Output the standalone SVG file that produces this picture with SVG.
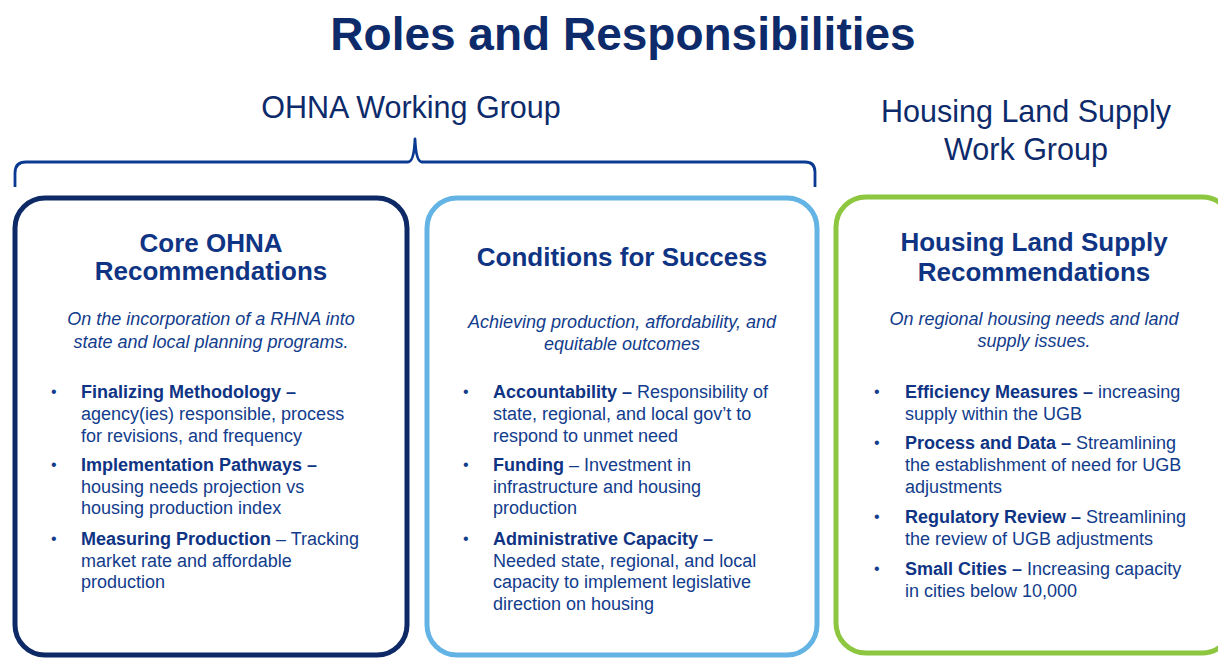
<svg xmlns="http://www.w3.org/2000/svg" width="1218" height="658" viewBox="0 0 1218 658">
  <style>
    text { font-family: "Liberation Sans", Arial, sans-serif; }
    .title { font-size: 46px; font-weight: bold; fill: #0d2b6b; text-anchor: middle; }
    .group { font-size: 30.5px; fill: #0d2b6b; text-anchor: middle; }
    .head { font-size: 26px; font-weight: bold; fill: #0f3484; text-anchor: middle; }
    .sub { font-size: 18px; font-style: italic; fill: #123c8c; text-anchor: middle; }
    .body { font-size: 18px; fill: #123c8c; }
    .dot { font-size: 16px; fill: #123c8c; }
    .b { font-weight: bold; fill: #0f3484; }
    .box { fill: #ffffff; stroke-width: 5; }
    .brace { fill: none; stroke: #0a3a91; stroke-width: 2.8; stroke-linejoin: round; }
  </style>

  <rect width="1218" height="658" fill="#ffffff"/>

  <g id="title">
    <text class="title" x="623" y="50">Roles and Responsibilities</text>
  </g>

  <g id="label-ohna">
    <text class="group" x="411" y="118">OHNA Working Group</text>
  </g>

  <g id="label-hls">
    <text class="group" x="1026" y="122">Housing Land Supply</text>
    <text class="group" x="1026" y="160">Work Group</text>
  </g>

  <g id="connectors">
    <path class="brace" d="M15,187 L15,173 Q15,162 26,162 L408,162 Q414,162 415,139 Q416,162 422,162 L805,162 Q815,162 815,172 L815,187"/>
  </g>

  <g id="node-core">
    <rect class="box" x="15" y="198" width="392" height="457" rx="30" stroke="#0d2a66"/>
    <text class="head" x="211" y="252">Core OHNA</text>
    <text class="head" x="211" y="280">Recommendations</text>
    <text class="sub" x="211" y="325">On the incorporation of a RHNA into</text>
    <text class="sub" x="211" y="348">state and local planning programs.</text>
    <text class="dot" x="51" y="397">•</text>
    <text class="body" x="81" y="398"><tspan class="b">Finalizing Methodology –</tspan></text>
    <text class="body" x="81" y="420">agency(ies) responsible, process</text>
    <text class="body" x="81" y="442">for revisions, and frequency</text>
    <text class="dot" x="51" y="470">•</text>
    <text class="body" x="81" y="471"><tspan class="b">Implementation Pathways –</tspan></text>
    <text class="body" x="81" y="493">housing needs projection vs</text>
    <text class="body" x="81" y="514">housing production index</text>
    <text class="dot" x="51" y="544">•</text>
    <text class="body" x="81" y="545"><tspan class="b">Measuring Production</tspan> – Tracking</text>
    <text class="body" x="81" y="567">market rate and affordable</text>
    <text class="body" x="81" y="588">production</text>
  </g>

  <g id="node-conditions">
    <rect class="box" x="427" y="198" width="390" height="457" rx="30" stroke="#63b4e4"/>
    <text class="head" x="622" y="266">Conditions for Success</text>
    <text class="sub" x="622" y="328">Achieving production, affordability, and</text>
    <text class="sub" x="622" y="350">equitable outcomes</text>
    <text class="dot" x="463" y="397">•</text>
    <text class="body" x="493" y="398"><tspan class="b">Accountability –</tspan> Responsibility of</text>
    <text class="body" x="493" y="420">state, regional, and local gov’t to</text>
    <text class="body" x="493" y="442">respond to unmet need</text>
    <text class="dot" x="463" y="470">•</text>
    <text class="body" x="493" y="471"><tspan class="b">Funding</tspan> – Investment in</text>
    <text class="body" x="493" y="493">infrastructure and housing</text>
    <text class="body" x="493" y="514">production</text>
    <text class="dot" x="463" y="544">•</text>
    <text class="body" x="493" y="545"><tspan class="b">Administrative Capacity –</tspan></text>
    <text class="body" x="493" y="567">Needed state, regional, and local</text>
    <text class="body" x="493" y="588">capacity to implement legislative</text>
    <text class="body" x="493" y="610">direction on housing</text>
  </g>

  <g id="node-hls">
    <rect class="box" x="836" y="197" width="396" height="456" rx="30" stroke="#8dc63f"/>
    <text class="head" x="1034" y="251">Housing Land Supply</text>
    <text class="head" x="1034" y="281">Recommendations</text>
    <text class="sub" x="1034" y="325">On regional housing needs and land</text>
    <text class="sub" x="1034" y="347">supply issues.</text>
    <text class="dot" x="874" y="397">•</text>
    <text class="body" x="905" y="398"><tspan class="b">Efficiency Measures –</tspan> increasing</text>
    <text class="body" x="905" y="420">supply within the UGB</text>
    <text class="dot" x="874" y="448">•</text>
    <text class="body" x="905" y="449"><tspan class="b">Process and Data –</tspan> Streamlining</text>
    <text class="body" x="905" y="471">the establishment of need for UGB</text>
    <text class="body" x="905" y="493">adjustments</text>
    <text class="dot" x="874" y="522">•</text>
    <text class="body" x="905" y="523"><tspan class="b">Regulatory Review –</tspan> Streamlining</text>
    <text class="body" x="905" y="545">the review of UGB adjustments</text>
    <text class="dot" x="874" y="574">•</text>
    <text class="body" x="905" y="575"><tspan class="b">Small Cities –</tspan> Increasing capacity</text>
    <text class="body" x="905" y="597">in cities below 10,000</text>
  </g>
</svg>
